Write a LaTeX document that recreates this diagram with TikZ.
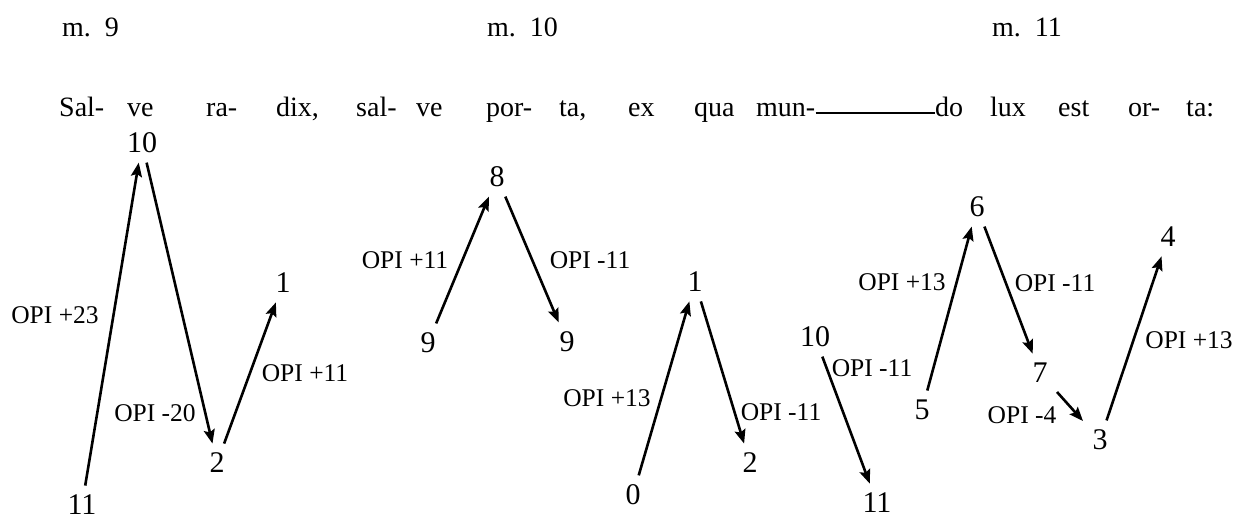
\documentclass[tikz,border=0pt]{standalone}
\usepackage{fontspec}
\setmainfont{Liberation Serif}
\usetikzlibrary{arrows.meta}
\begin{document}
\begin{tikzpicture}[x=1pt,y=-1pt,
  num/.style={font=\fontsize{30}{32}\selectfont,inner sep=1pt,outer sep=8.5pt},
  lab/.style={font=\fontsize{25.5}{28}\selectfont,inner sep=0pt},
  lyr/.style={font=\fontsize{28}{30}\selectfont,inner sep=0pt,anchor=base west},
  meas/.style={font=\fontsize{28}{30}\selectfont,inner sep=0pt,anchor=base west},
  arr/.style={line width=2.6pt,-{Stealth[length=14pt,width=11pt,inset=2.5pt]}}]
\useasboundingbox (0,0) rectangle (1244,519);
% headings
\node[meas] (m9) at (62,37) {m.\hspace{0.5em}9};
\node[meas] (m10) at (487,37) {m.\hspace{0.5em}10};
\node[meas] (m11) at (992,37) {m.\hspace{0.5em}11};
% lyrics
\node[lyr] (w1) at (59,116) {Sal-};
\node[lyr] (w2) at (127,116) {ve};
\node[lyr] (w3) at (206,116) {ra-};
\node[lyr] (w4) at (276,116) {dix,};
\node[lyr] (w5) at (356,116) {sal-};
\node[lyr] (w6) at (416,116) {ve};
\node[lyr] (w7) at (486,116) {por-};
\node[lyr] (w8) at (559,116) {ta,};
\node[lyr] (w9) at (628,116) {ex};
\node[lyr] (w10) at (694,116) {qua};
\node[lyr] (w11) at (756,116) {mun-};
\node[lyr] (w12) at (935,116) {do};
\node[lyr] (w13) at (990,116) {lux};
\node[lyr] (w14) at (1058,116) {est};
\node[lyr] (w15) at (1128,116) {or-};
\node[lyr] (w16) at (1186,116) {ta:};
\draw[line width=1.8pt] ([yshift=3pt]w11.base east) -- ([yshift=3pt]w12.base west);
% m. 9
\node[num] (a1) at (82,505) {11};
\node[num] (a2) at (142,143) {10};
\node[num] (a3) at (217,463) {2};
\node[num] (a4) at (283,283) {1};
\draw[arr] (a1) -- (a2);
\draw[arr] (a2) -- (a3);
\draw[arr] (a3) -- (a4);
\node[lab] at (55,315) {OPI +23};
\node[lab] at (155,413) {OPI -20};
\node[lab] at (305,373) {OPI +11};
% m. 10
\node[num] (b1) at (428,343) {9};
\node[num] (b2) at (497,177) {8};
\node[num] (b3) at (567,342) {9};
\draw[arr] (b1) -- (b2);
\draw[arr] (b2) -- (b3);
\node[lab] at (405,260) {OPI +11};
\node[lab] at (590,260) {OPI -11};
\node[num] (c1) at (633,495) {0};
\node[num] (c2) at (695,282) {1};
\node[num] (c3) at (750,463) {2};
\draw[arr] (c1) -- (c2);
\draw[arr] (c2) -- (c3);
\node[lab] at (607,398) {OPI +13};
\node[lab] at (781,412) {OPI -11};
\node[num] (d1) at (815,337) {10};
\node[num] (d2) at (877,503) {11};
\draw[arr] (d1) -- (d2);
\node[lab] at (872,368) {OPI -11};
% m. 11
\node[num] (e1) at (922,410) {5};
\node[num] (e2) at (977,207) {6};
\node[num] (e3) at (1040,373) {7};
\node[num] (e4) at (1100,440) {3};
\node[num] (e5) at (1168,237) {4};
\draw[arr] (e1) -- (e2);
\draw[arr] (e2) -- (e3);
\draw[arr] (e3) -- (e4);
\draw[arr] (e4) -- (e5);
\node[lab] at (902,282) {OPI +13};
\node[lab] at (1055,283) {OPI -11};
\node[lab] at (1022,415) {OPI -4};
\node[lab] at (1189,340) {OPI +13};
\end{tikzpicture}
\end{document}
